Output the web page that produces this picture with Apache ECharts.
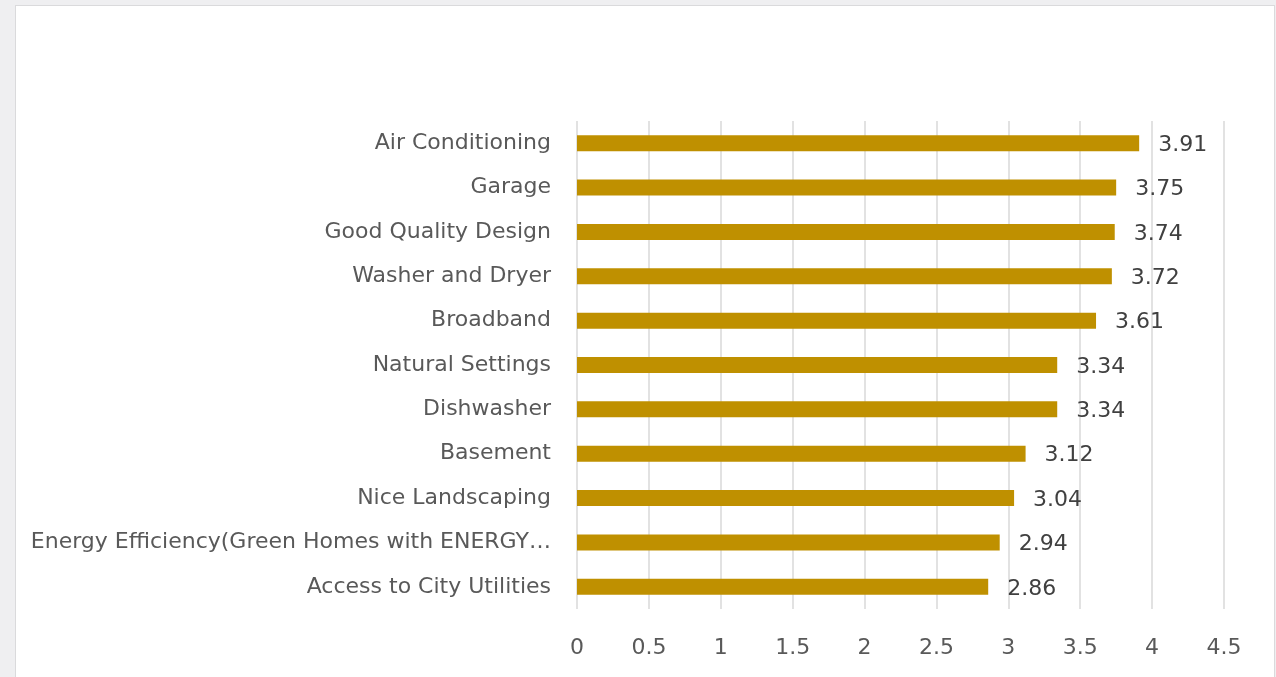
<!DOCTYPE html>
<html>
<head>
<meta charset="utf-8">
<script src="https://cdn.jsdelivr.net/npm/echarts@6/dist/echarts.min.js"></script>
<style>
html,body{margin:0;padding:0;width:1276px;height:677px;background:#efeff1;overflow:hidden;}
#panel{position:absolute;left:15px;top:5px;width:1258px;height:690px;background:#fff;border:1px solid #dadadc;}
#chart{position:absolute;left:0;top:0;width:1276px;height:677px;}
</style>
</head>
<body>
<div id="panel"></div>
<div id="chart"></div>
<script>
const categories = [
  "Access to City Utilities",
  "Energy Efficiency(Green Homes with ENERGY…",
  "Nice Landscaping",
  "Basement",
  "Dishwasher",
  "Natural Settings",
  "Broadband",
  "Washer and Dryer",
  "Good Quality Design",
  "Garage",
  "Air Conditioning"
];
const values = [2.86, 2.94, 3.04, 3.12, 3.34, 3.34, 3.61, 3.72, 3.74, 3.75, 3.91];
const xTicks = ["0", "0.5", "1", "1.5", "2", "2.5", "3", "3.5", "4", "4.5"];

const chart = echarts.init(document.getElementById('chart'), null, {renderer: 'canvas'});
const font = '"DejaVu Sans", "Open Sans", sans-serif';
chart.setOption({
  backgroundColor: 'transparent',
  animation: false,
  grid: {left: 577, right: 52, top: 121, bottom: 68, containLabel: false},
  xAxis: {
    type: 'value', min: 0, max: 4.5, interval: 0.5,
    axisLine: {show: false}, axisTick: {show: false},
    splitLine: {show: true, lineStyle: {color: '#d9d9d9', width: 1.5}},
    axisLabel: {
      color: '#595959', fontFamily: font, fontSize: 22, margin: 28,
      formatter: function (v) { const i = Math.round(v / 0.5); return xTicks[i] !== undefined ? xTicks[i] : v; }
    }
  },
  yAxis: {
    type: 'category', data: categories,
    axisLine: {show: false}, axisTick: {show: false},
    splitLine: {show: false},
    axisLabel: {color: '#595959', fontFamily: font, fontSize: 22, margin: 26}
  },
  series: [{
    type: 'bar', data: values, barWidth: 16,
    itemStyle: {color: '#bf9000'},
    label: {
      show: true, position: 'right', distance: 19,
      color: '#404040', fontFamily: font, fontSize: 22, offset: [0, 2],
      formatter: function (p) { return p.value.toFixed(2); }
    }
  }]
});
</script>
</body>
</html>
